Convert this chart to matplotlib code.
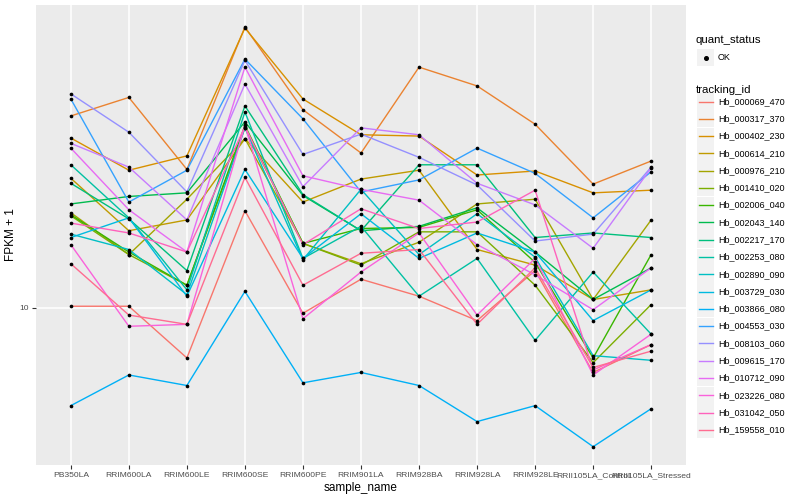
import matplotlib
matplotlib.use('Agg')
import matplotlib.pyplot as plt
from matplotlib.patches import Rectangle

plt.rcParams['font.family'] = ['Liberation Sans', 'DejaVu Sans']

samples = ['PB350LA', 'RRIM600LA', 'RRIM600LE', 'RRIM600SE', 'RRIM600PE', 'RRIM901LA',
           'RRIM928BA', 'RRIM928LA', 'RRIM928LE', 'RRII105LA_Control', 'RRII105LA_Stressed']

tracking_ids = ['Hb_000069_470', 'Hb_000317_370', 'Hb_000402_230', 'Hb_000614_210',
                'Hb_000976_210', 'Hb_001410_020', 'Hb_002006_040', 'Hb_002043_140',
                'Hb_002217_170', 'Hb_002253_080', 'Hb_002890_090', 'Hb_003729_030',
                'Hb_003866_080', 'Hb_004553_030', 'Hb_008103_060', 'Hb_009615_170',
                'Hb_010712_090', 'Hb_023226_080', 'Hb_031042_050', 'Hb_159558_010']

# FPKM + 1 per gene, one value per sample
hb_000069_470 = [10.1, 10.1, 7.5, 17.5, 9.7, 11.8, 10.7, 9.3, 12.4, 6.9, 8.1]
hb_000317_370 = [30.2, 33.6, 22.2, 50.4, 31.3, 24.4, 40.0, 35.9, 28.8, 20.4, 23.3]
hb_000402_230 = [26.6, 22.1, 24.0, 50.1, 33.3, 27.1, 26.9, 21.5, 22.0, 19.4, 19.7]
hb_000614_210 = [21.1, 15.6, 16.6, 26.5, 18.4, 21.0, 22.1, 14.0, 12.8, 10.5, 11.1]
hb_000976_210 = [17.3, 13.6, 18.7, 26.5, 14.5, 12.9, 14.6, 18.2, 18.7, 10.5, 16.6]
hb_001410_020 = [17.0, 13.6, 11.4, 28.2, 14.5, 12.8, 15.5, 15.5, 11.4, 7.3, 10.2]
hb_002006_040 = [17.1, 13.8, 11.4, 28.6, 14.5, 15.8, 15.9, 17.6, 13.0, 7.5, 13.6]
hb_002043_140 = [18.2, 19.0, 19.4, 29.2, 19.1, 15.6, 16.0, 17.8, 13.8, 10.5, 12.6]
hb_002217_170 = [20.5, 16.7, 12.4, 32.0, 19.2, 15.6, 22.8, 22.8, 15.0, 15.4, 15.0]
hb_002253_080 = [22.8, 16.8, 11.1, 30.9, 13.3, 16.0, 10.7, 13.3, 8.3, 12.3, 8.6]
hb_002890_090 = [15.3, 14.0, 10.8, 28.2, 13.2, 19.8, 13.6, 17.2, 13.4, 7.6, 7.4]
hb_003729_030 = [15.0, 16.8, 10.7, 22.2, 13.3, 17.2, 13.3, 15.4, 13.8, 9.3, 11.1]
hb_003866_080 = [5.7, 6.8, 6.4, 11.0, 6.5, 6.9, 6.4, 5.2, 5.7, 4.5, 5.6]
hb_004553_030 = [33.3, 18.4, 22.1, 41.9, 29.7, 19.5, 20.9, 25.1, 21.7, 16.8, 21.9]
hb_008103_060 = [34.3, 27.5, 19.5, 41.6, 24.2, 27.2, 23.8, 20.3, 14.7, 15.3, 22.5]
hb_009615_170 = [25.8, 22.5, 16.6, 36.3, 20.1, 28.2, 27.1, 20.5, 18.1, 14.1, 22.4]
hb_010712_090 = [25.1, 17.6, 13.8, 40.0, 21.4, 19.8, 18.6, 14.4, 12.1, 9.9, 12.6]
hb_023226_080 = [14.4, 9.0, 9.1, 28.6, 9.4, 12.3, 15.4, 9.6, 13.3, 6.8, 8.6]
hb_031042_050 = [16.3, 15.4, 13.8, 28.4, 14.4, 17.7, 15.8, 16.4, 19.7, 7.0, 8.1]
hb_159558_010 = [12.9, 9.6, 9.1, 21.2, 11.4, 13.7, 14.0, 9.1, 12.6, 7.1, 7.8]

series = [hb_000069_470, hb_000317_370, hb_000402_230, hb_000614_210, hb_000976_210,
          hb_001410_020, hb_002006_040, hb_002043_140, hb_002217_170, hb_002253_080,
          hb_002890_090, hb_003729_030, hb_003866_080, hb_004553_030, hb_008103_060,
          hb_009615_170, hb_010712_090, hb_023226_080, hb_031042_050, hb_159558_010]

# ggplot default hue palette for 20 levels
colors = ['#F8766D', '#EA8331', '#D89000', '#C09B00', '#A3A500', '#7CAE00', '#39B600',
          '#00BB4E', '#00BF7D', '#00C1A3', '#00BFC4', '#00BAE0', '#00B0F6', '#35A2FF',
          '#9590FF', '#C77CFF', '#E76BF3', '#FA62DB', '#FF62BC', '#FF6C91']

fig = plt.figure(figsize=(8, 5), dpi=100)
ax = fig.add_axes([36 / 800, 35 / 500, 650 / 800, 460 / 500])
ax.set_facecolor('#EBEBEB')

x = list(range(len(samples)))
for vals, col in zip(series, colors):
    ax.plot(x, vals, color=col, lw=1.0, zorder=2)
for vals in series:
    ax.scatter(x, vals, s=7, color='black', zorder=3, linewidths=0)

ax.set_yscale('log')
ax.set_ylim(4.05, 57.2)
ax.set_xlim(-0.6, 10.6)
ax.set_yticks([10])
ax.set_yticklabels(['10'])
ax.yaxis.set_minor_locator(matplotlib.ticker.NullLocator())
ax.set_xticks(x)
ax.set_xticklabels(samples)
ax.grid(True, color='white', lw=1.1, zorder=0)
ax.set_axisbelow(True)
for s in ax.spines.values():
    s.set_visible(False)
ax.tick_params(axis='both', colors='#333333', labelcolor='#4D4D4D', labelsize=6.1,
               length=3, width=0.8, pad=2)
ax.set_xlabel('sample_name', fontsize=8.5, labelpad=2)
ax.set_ylabel('FPKM + 1', fontsize=8.5, labelpad=2)

# legend drawn in figure pixel space, ggplot style
lg = fig.add_axes([0, 0, 1, 1], facecolor='none')
lg.set_xlim(0, 800)
lg.set_ylim(500, 0)
lg.axis('off')
lg.text(696, 40, 'quant_status', fontsize=8.2, va='center', ha='left')
lg.add_patch(Rectangle((697, 49), 17, 17, facecolor='#F2F2F2', edgecolor='none'))
lg.plot([705.5], [57.5], marker='o', ms=2.6, color='black')
lg.text(718, 57.5, 'OK', fontsize=6.5, va='center', ha='left')
lg.text(696, 90, 'tracking_id', fontsize=8.2, va='center', ha='left')
for i, (name, col) in enumerate(zip(tracking_ids, colors)):
    yc = 101.5 + i * 17.28
    lg.add_patch(Rectangle((697, yc - 8.5), 17, 17, facecolor='#F2F2F2', edgecolor='none'))
    lg.plot([698.5, 712.5], [yc, yc], color=col, lw=1.0)
    lg.text(718, yc, name, fontsize=6.5, va='center', ha='left')

fig.savefig('out.png', dpi=100)
